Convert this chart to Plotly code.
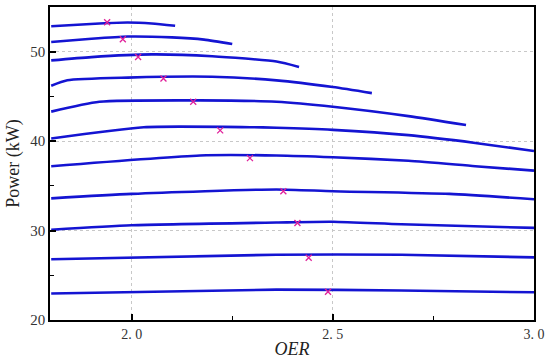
import plotly.graph_objects as go

# Curve data (OER, Power kW)
c1_x = [1.80, 1.92, 1.99, 2.05, 2.108]
c1_y = [52.85, 53.15, 53.26, 53.15, 52.9]
c2_x = [1.80, 1.90, 1.99, 2.10, 2.18, 2.25]
c2_y = [51.08, 51.45, 51.7, 51.6, 51.35, 50.86]
c3_x = [1.80, 1.90, 2.05, 2.20, 2.36, 2.416]
c3_y = [49.03, 49.4, 49.7, 49.5, 48.9, 48.3]
c4_x = [1.80, 1.84, 1.99, 2.20, 2.36, 2.50, 2.597]
c4_y = [46.19, 46.8, 47.1, 47.2, 46.8, 46.05, 45.37]
c5_x = [1.80, 1.92, 2.17, 2.36, 2.50, 2.688, 2.831]
c5_y = [43.3, 44.4, 44.56, 44.4, 43.85, 42.8, 41.8]
c6_x = [1.80, 2.03, 2.294, 2.36, 2.50, 2.688, 2.854, 3.0]
c6_y = [40.3, 41.56, 41.56, 41.5, 41.26, 40.67, 39.8, 38.9]
c7_x = [1.80, 2.17, 2.36, 2.50, 2.688, 2.854, 3.0]
c7_y = [37.2, 38.4, 38.4, 38.2, 37.8, 37.2, 36.7]
c8_x = [1.80, 2.0, 2.36, 2.50, 2.79, 3.0]
c8_y = [33.6, 34.1, 34.6, 34.4, 34.1, 33.5]
c9_x = [1.80, 2.0, 2.36, 2.50, 2.67, 3.0]
c9_y = [30.1, 30.6, 30.9, 30.98, 30.7, 30.3]
c10_x = [1.80, 2.36, 2.67, 3.0]
c10_y = [26.8, 27.3, 27.3, 27.0]
c11_x = [1.80, 2.36, 2.67, 3.0]
c11_y = [22.96, 23.4, 23.3, 23.1]

# Peak power points
peak_x = [1.939, 1.978, 2.016, 2.079, 2.153, 2.22, 2.294, 2.377, 2.412, 2.44, 2.488]
peak_y = [53.3, 51.4, 49.4, 47.0, 44.4, 41.2, 38.1, 34.4, 30.85, 26.97, 23.15]

x_tick_vals = [2.0, 2.5, 3.0]
x_tick_text = ["2.\u00a00", "2.\u00a05", "3.\u00a00"]
y_tick_vals = [20, 30, 40, 50]

curves = [(c1_x, c1_y), (c2_x, c2_y), (c3_x, c3_y), (c4_x, c4_y), (c5_x, c5_y),
          (c6_x, c6_y), (c7_x, c7_y), (c8_x, c8_y), (c9_x, c9_y), (c10_x, c10_y),
          (c11_x, c11_y)]

fig = go.Figure()
for cx, cy in curves:
    fig.add_trace(go.Scatter(x=cx, y=cy, mode="lines",
                             line=dict(color="#1414d2", width=2.6, shape="spline", smoothing=0.6),
                             showlegend=False))
fig.add_trace(go.Scatter(x=peak_x, y=peak_y, mode="markers",
                         marker=dict(symbol="x-thin", size=6, line=dict(color="#e0209a", width=1.3)),
                         showlegend=False))

serif = "Liberation Serif"
fig.update_layout(
    width=550, height=361,
    margin=dict(l=50, r=16, t=5, b=41),
    plot_bgcolor="white", paper_bgcolor="white",
    font=dict(family=serif, size=14, color="#333"),
    xaxis=dict(range=[1.797, 3.0], tickvals=x_tick_vals, ticktext=x_tick_text,
               ticks="inside", ticklen=6, tickwidth=1.5, tickcolor="black",
               minor=dict(tickvals=[2.25, 2.75], ticks="inside", ticklen=4, tickwidth=1.2, tickcolor="black", showgrid=False),
               showline=True, linecolor="black", linewidth=1.5, mirror=True,
               showgrid=True, gridcolor="#c8c8c8", griddash="dot", gridwidth=1,
               zeroline=False,
               title=dict(text="<i>OER</i>", font=dict(family=serif, size=18, color="#222"), standoff=2),
               tickfont=dict(family=serif, size=14, color="#333")),
    yaxis=dict(range=[20, 55], tickvals=y_tick_vals,
               ticks="inside", ticklen=6, tickwidth=1.5, tickcolor="black",
               minor=dict(tickvals=[25, 35, 45], ticks="inside", ticklen=4, tickwidth=1.2, tickcolor="black", showgrid=False),
               showline=True, linecolor="black", linewidth=1.5, mirror=True,
               showgrid=True, gridcolor="#c8c8c8", griddash="dot", gridwidth=1,
               zeroline=False,
               title=dict(text="Power (kW)", font=dict(family=serif, size=18, color="#222"), standoff=6),
               tickfont=dict(family=serif, size=15, color="#333")),
)
fig.write_html("out.html", config={"displayModeBar": False},
               post_script="document.body.style.margin='0';")
